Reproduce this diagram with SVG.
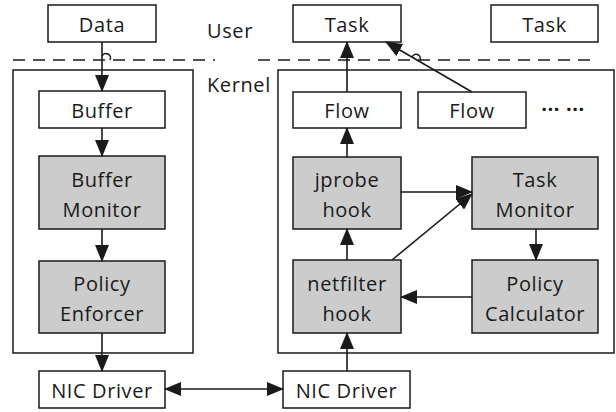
<svg xmlns="http://www.w3.org/2000/svg" width="616" height="412" viewBox="0 0 616 412">
<style>
.box{fill:#fff;stroke:#1a1a1a;stroke-width:1.5}
.gray{fill:#cccccc;stroke:#1a1a1a;stroke-width:1.5}
.cont{fill:none;stroke:#1a1a1a;stroke-width:1.5}
.t{font-family:"Open Sans","DejaVu Sans",sans-serif;font-size:20px;fill:#1a1a1a;text-anchor:middle;letter-spacing:0.6px}
.lbl{font-family:"Open Sans","DejaVu Sans",sans-serif;font-size:20px;fill:#1a1a1a;letter-spacing:0.6px}
.c{fill:none;stroke:#1a1a1a;stroke-width:1.6}
.dash{fill:none;stroke:#1a1a1a;stroke-width:1.6;stroke-dasharray:12 8}
</style>
<defs>
<marker id="ah" markerUnits="userSpaceOnUse" markerWidth="17" markerHeight="14" refX="16" refY="7" orient="auto-start-reverse">
<path d="M0,0 L17,7 L0,14 Z" fill="#1a1a1a"/>
</marker>
</defs>

<g id="boundary">
<path class="dash" d="M13,60 H215"/>
<path class="dash" d="M258,60 H598"/>
<text class="lbl" x="207" y="38">User</text>
<text class="lbl" x="207" y="92">Kernel</text>
</g>

<g id="kernel-left"><rect class="cont" x="13" y="70" width="180" height="283"/></g>
<g id="kernel-right"><rect class="cont" x="278" y="70" width="336" height="283"/></g>

<g id="data"><rect class="box" x="48" y="5" width="108" height="37"/><text class="t" x="102" y="32">Data</text></g>
<g id="task1"><rect class="box" x="293" y="5" width="108" height="37"/><text class="t" x="347" y="32">Task</text></g>
<g id="task2"><rect class="box" x="491" y="5" width="107" height="37"/><text class="t" x="544.5" y="32">Task</text></g>

<g id="buffer"><rect class="box" x="39" y="91" width="126" height="37"/><text class="t" x="102" y="118">Buffer</text></g>
<g id="buffer-monitor"><rect class="gray" x="39" y="156" width="126" height="73"/><text class="t" x="102" y="187">Buffer</text><text class="t" x="102" y="217">Monitor</text></g>
<g id="policy-enforcer"><rect class="gray" x="39" y="261" width="126" height="72"/><text class="t" x="102" y="291">Policy</text><text class="t" x="102" y="321">Enforcer</text></g>
<g id="nic-left"><rect class="box" x="39" y="371" width="126" height="37"/><text class="t" x="102" y="398">NIC Driver</text></g>

<g id="flow1"><rect class="box" x="293" y="92" width="108" height="36"/><text class="t" x="347" y="118">Flow</text></g>
<g id="flow2"><rect class="box" x="418" y="92" width="108" height="36"/><text class="t" x="472" y="118">Flow</text></g>
<g id="ellipsis"><text class="t" x="563" y="116" font-weight="bold">··· ···</text></g>
<g id="jprobe"><rect class="gray" x="293" y="157" width="108" height="72"/><text class="t" x="347" y="187">jprobe</text><text class="t" x="347" y="217">hook</text></g>
<g id="netfilter"><rect class="gray" x="293" y="260" width="108" height="73"/><text class="t" x="347" y="291">netfilter</text><text class="t" x="347" y="321">hook</text></g>
<g id="task-monitor"><rect class="gray" x="472" y="157" width="126" height="72"/><text class="t" x="535" y="187">Task</text><text class="t" x="535" y="217">Monitor</text></g>
<g id="policy-calculator"><rect class="gray" x="472" y="260" width="126" height="73"/><text class="t" x="535" y="291">Policy</text><text class="t" x="535" y="321">Calculator</text></g>
<g id="nic-right"><rect class="box" x="283" y="371" width="127" height="37"/><text class="t" x="346.5" y="398">NIC Driver</text></g>

<g id="connectors">
<path class="c" d="M102,42 V91" marker-end="url(#ah)"/>
<path class="c" d="M102,56 A4,4 0 0 1 110,60" />
<path class="c" d="M102,128 V156" marker-end="url(#ah)"/>
<path class="c" d="M102,229 V261" marker-end="url(#ah)"/>
<path class="c" d="M102,333 V371" marker-end="url(#ah)"/>
<path class="c" d="M165,389 H283" marker-start="url(#ah)" marker-end="url(#ah)"/>
<path class="c" d="M347,92 V42" marker-end="url(#ah)"/>
<path class="c" d="M472,92 L386,42" marker-end="url(#ah)"/>
<path class="c" d="M412,57 A4,4 0 0 1 420,60" />
<path class="c" d="M347,157 V128" marker-end="url(#ah)"/>
<path class="c" d="M347,260 V229" marker-end="url(#ah)"/>
<path class="c" d="M347,371 V333" marker-end="url(#ah)"/>
<path class="c" d="M401,192 H472" marker-end="url(#ah)"/>
<path class="c" d="M392,260 L472,194" marker-end="url(#ah)"/>
<path class="c" d="M536,229 V260" marker-end="url(#ah)"/>
<path class="c" d="M472,297 H401" marker-end="url(#ah)"/>
</g>
</svg>
